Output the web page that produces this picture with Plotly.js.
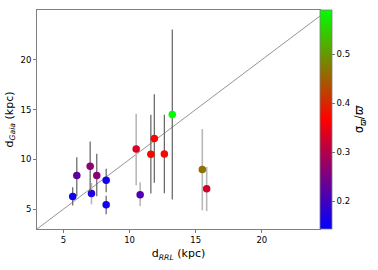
<!DOCTYPE html>
<html>
<head>
<meta charset="utf-8">
<script src="https://cdn.plot.ly/plotly-3.0.1.min.js"></script>
<style>html,body{margin:0;padding:0;background:#fff}#chart{width:378px;height:270px}</style>
</head>
<body>
<div id="chart"></div>
<script>
// Points with dark error bars
const darkX = [5.70, 6.01, 7.02, 7.52, 8.23, 8.23, 11.61, 11.87, 12.63, 13.23];
const darkY = [6.27, 8.37, 9.30, 8.37, 7.90, 5.44, 10.50, 12.10, 10.54, 14.50];
const darkErrPlus = [0.93, 1.83, 2.50, 2.20, 1.14, 0.90, 3.97, 4.44, 3.93, 8.54];
const darkErrMinus = [0.90, 2.07, 2.50, 2.07, 1.20, 0.95, 3.93, 4.46, 3.94, 8.53];
const darkColor = [0.155, 0.225, 0.268, 0.265, 0.160, 0.160, 0.375, 0.370, 0.375, 0.590];

// Points with light error bars
const lightX = [7.12, 10.50, 10.80, 15.50, 15.83];
const lightY = [6.57, 11.04, 6.44, 8.97, 7.04];
const lightErrPlus = [1.07, 3.53, 1.26, 4.07, 2.20];
const lightErrMinus = [1.10, 3.64, 1.14, 4.10, 2.24];
const lightColor = [0.170, 0.335, 0.215, 0.465, 0.330];

// 1:1 reference line
const oneToOne = [3, 24.4];

const cmin = 0.143, cmax = 0.59;
const brg = [[0, 'rgb(0,0,255)'], [0.5, 'rgb(255,0,0)'], [1, 'rgb(0,255,0)']];

const traces = [
  {x: oneToOne, y: oneToOne, mode: 'lines', type: 'scatter',
   line: {color: '#666666', width: 0.7}, hoverinfo: 'skip', showlegend: false},
  {x: lightX, y: lightY, mode: 'markers', type: 'scatter', showlegend: false,
   error_y: {type: 'data', symmetric: false, array: lightErrPlus, arrayminus: lightErrMinus,
             color: '#b8b8b8', thickness: 1.6, width: 0},
   marker: {size: 7.5, color: lightColor, colorscale: brg, cmin: cmin, cmax: cmax, showscale: false}},
  {x: darkX, y: darkY, mode: 'markers', type: 'scatter', showlegend: false,
   error_y: {type: 'data', symmetric: false, array: darkErrPlus, arrayminus: darkErrMinus,
             color: '#606060', thickness: 1.2, width: 0},
   marker: {size: 7.5, color: darkColor, colorscale: brg, cmin: cmin, cmax: cmax, showscale: true,
            colorbar: {x: 1, xanchor: 'left', xpad: 0, ypad: 0, y: 0.5, yanchor: 'middle',
                       len: 1, lenmode: 'fraction', thickness: 12, thicknessmode: 'pixels',
                       outlinecolor: '#808080', outlinewidth: 0.8,
                       tickvals: [0.2, 0.3, 0.4, 0.5], ticktext: ['0.2', '0.3', '0.4', '0.5'],
                       ticks: 'outside', ticklen: 3, tickcolor: '#555', tickwidth: 0.8,
                       tickfont: {size: 8.5, color: '#000', family: 'DejaVu Sans'},
                       title: {text: 'σ<sub><i>ϖ</i></sub>/<i>ϖ</i>', side: 'right',
                               font: {size: 11.5, color: '#000', family: 'DejaVu Sans'}}}}}
];

const axisCommon = {
  showgrid: false, zeroline: false, showline: true, mirror: true,
  linecolor: '#808080', linewidth: 1, ticks: 'outside', ticklen: 3,
  tickcolor: '#555', tickwidth: 0.8,
  tickfont: {size: 8.5, color: '#000', family: 'DejaVu Sans'}
};

const layout = {
  width: 378, height: 270,
  margin: {l: 37, r: 58, t: 10, b: 41},
  paper_bgcolor: '#fff', plot_bgcolor: '#fff',
  font: {family: 'DejaVu Sans', color: '#000'},
  xaxis: Object.assign({}, axisCommon, {range: [3, 24.4], tickvals: [5, 10, 15, 20],
    title: {text: 'd<sub><i>RRL</i></sub> (kpc)', standoff: 5, font: {size: 11, color: '#000'}}}),
  yaxis: Object.assign({}, axisCommon, {range: [3, 25], tickvals: [5, 10, 15, 20],
    title: {text: 'd<sub><i>Gaia</i></sub> (kpc)', standoff: 4, font: {size: 11, color: '#000'}}}),
  showlegend: false
};

Plotly.newPlot('chart', traces, layout, {displayModeBar: false, staticPlot: true});
</script>
</body>
</html>
